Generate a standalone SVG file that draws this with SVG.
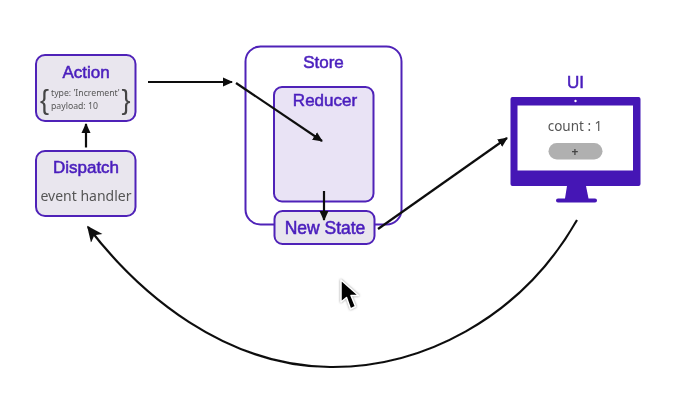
<svg xmlns="http://www.w3.org/2000/svg" width="685" height="405" viewBox="0 0 685 405">
<defs>
<marker id="arr" viewBox="0 0 10 10" refX="9" refY="5" markerWidth="10" markerHeight="10" markerUnits="userSpaceOnUse" orient="auto"><path d="M0 0.5L10 5L0 9.500Z" fill="#111"/></marker>
<marker id="arrL" viewBox="0 0 10 10" refX="9" refY="5" markerWidth="16" markerHeight="16" markerUnits="userSpaceOnUse" orient="auto"><path d="M0 0.5L10 5L0 9.500L2.500 5Z" fill="#111"/></marker>
<filter id="soft" x="-5%" y="-5%" width="110%" height="110%"><feGaussianBlur stdDeviation="0.35"/></filter>
<filter id="halo" x="-30%" y="-30%" width="160%" height="160%"><feDropShadow dx="0" dy="0" stdDeviation="1.200" flood-color="#888"/></filter>
</defs>
<style>
.box{fill:#e9e6ee;stroke:#4f22b8;stroke-width:2}
.t{font-family:"Liberation Sans",Arial,sans-serif;fill:#4a1fbd;text-anchor:middle;stroke:#4a1fbd;stroke-width:.55;font-size:17px}
.g{font-family:"Noto Sans","Open Sans",sans-serif;fill:#555;text-anchor:middle}
.b{font-family:"Liberation Sans",sans-serif;fill:#444;text-anchor:middle;font-size:27px}
.c{fill:none;stroke:#111;stroke-width:2.200}
</style>
<rect width="685" height="405" fill="#fff"/>
<g filter="url(#soft)">
<g id="store"><rect x="245.500" y="46.500" width="156" height="178" rx="15" fill="#fff" stroke="#4f22b8" stroke-width="2"/>
<text class="t" x="323.500" y="68">Store</text></g>
<g id="reducer"><rect x="274" y="87" width="99.500" height="114.500" rx="8" fill="#e9e3f5" stroke="#4f22b8" stroke-width="2"/>
<text class="t" x="325" y="106">Reducer</text></g>
<g id="new-state"><rect class="box" x="274.500" y="211" width="100" height="33" rx="8"/>
<text class="t" x="325" y="234" style="font-size:17.500px">New State</text></g>
<g id="action"><rect class="box" x="36" y="55" width="99.500" height="66" rx="9"/>
<text class="t" x="86" y="78">Action</text>
<text class="b" x="44.500" y="109">{</text>
<text class="b" x="126" y="109">}</text>
<text class="g" x="51" y="96" font-size="8.700" style="text-anchor:start">type: 'Increment'</text>
<text class="g" x="51" y="109" font-size="8.700" style="text-anchor:start">payload: 10</text></g>
<g id="dispatch"><rect class="box" x="36" y="151" width="99.500" height="65" rx="9"/>
<text class="t" x="86" y="173">Dispatch</text>
<text class="g" x="86" y="201" font-size="14">event handler</text></g>
<g id="ui"><text class="t" x="575.500" y="88">UI</text>
<path d="M510.500 99a2 2 0 0 1 2-2h126a2 2 0 0 1 2 2v85a2 2 0 0 1-2 2h-126a2 2 0 0 1-2-2z" fill="#4412b5"/>
<rect x="517.500" y="105.500" width="115.500" height="65" fill="#fff"/>
<circle cx="575.500" cy="101" r="1.200" fill="#fff"/>
<path d="M567 186h19l2.500 12.500H595a1.500 1.500 0 0 1 0 4h-37a1.500 1.500 0 0 1 0-4h7z" fill="#4412b5"/>
<text class="g" x="575" y="131" font-size="13.500">count : 1</text>
<rect x="548.500" y="143" width="54" height="16.500" rx="8.250" fill="#b0b0b0"/>
<text class="g" x="575" y="156" font-size="12" font-weight="700" style="fill:#444">+</text></g>
<g id="connectors">
<path class="c" d="M86 147.500V124" marker-end="url(#arr)"/>
<path class="c" d="M148 82H232" marker-end="url(#arr)"/>
<path class="c" d="M236 83L322 141" marker-end="url(#arr)"/>
<path class="c" d="M324 191V220" marker-end="url(#arr)"/>
<path class="c" d="M378 229L507 138" marker-end="url(#arr)"/>
<path class="c" d="M577 220C520 320 420 368 330 367C225 366 140 295 88 227" marker-end="url(#arrL)"/>
</g>
<g id="cursor"><path d="M341 280V302L346.500 297.500L350.500 309L355.500 306.500L351 295.500H358.500Z" fill="#000" stroke="#fff" stroke-width="1.500" stroke-linejoin="round" filter="url(#halo)"/></g>
</g>
</svg>
